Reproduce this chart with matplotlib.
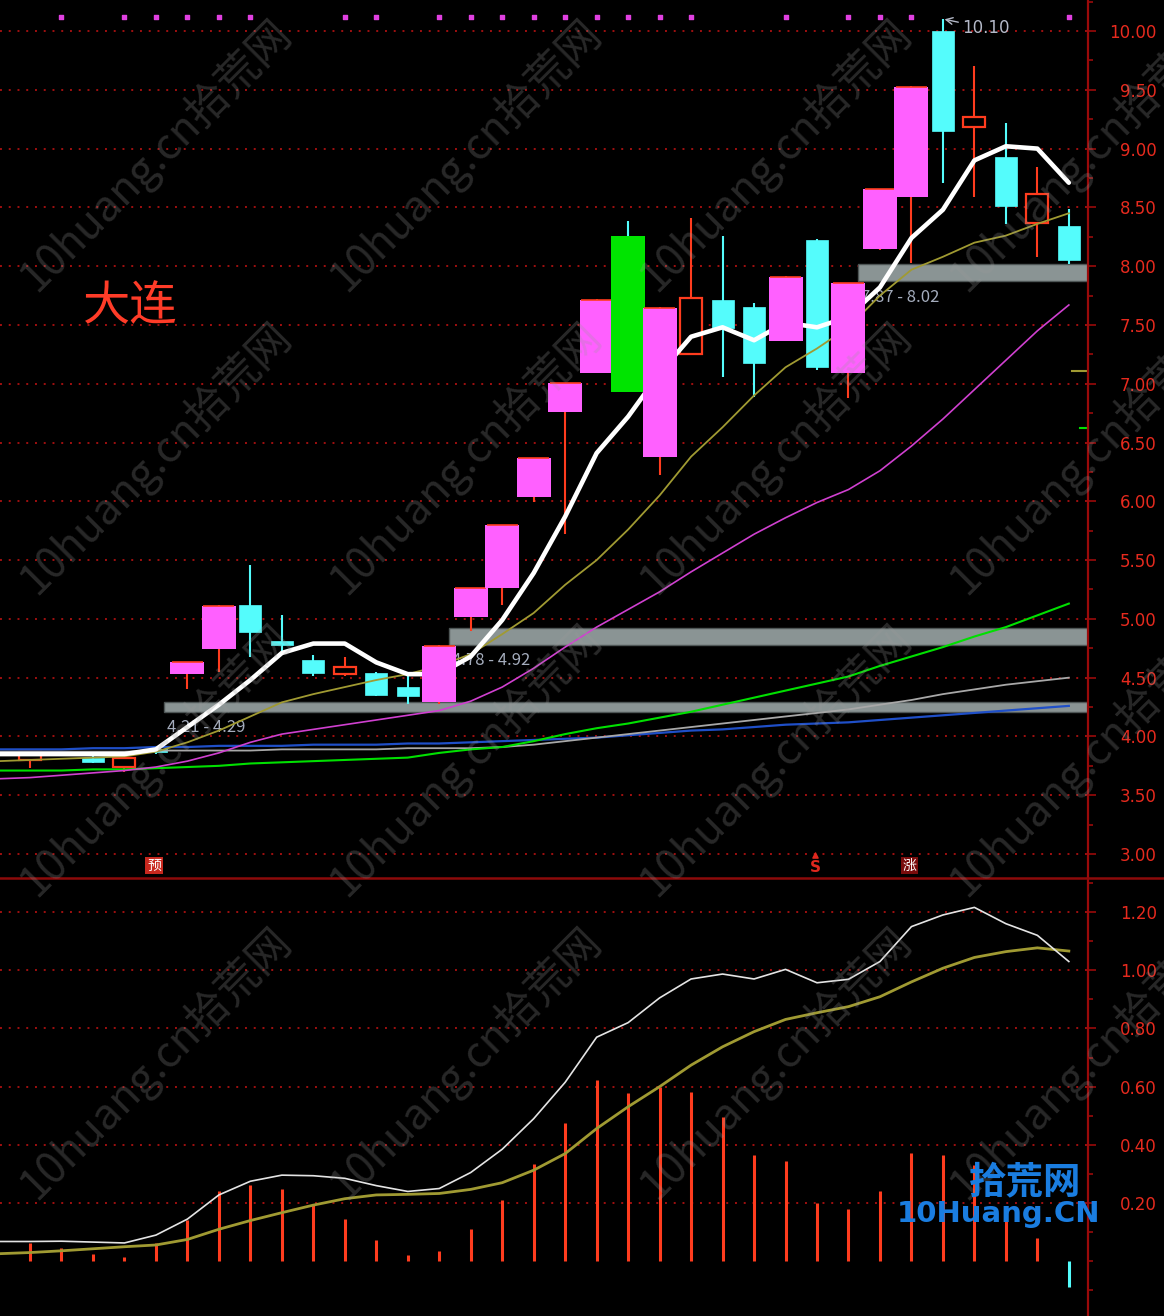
import numpy as np
import matplotlib.pyplot as plt
from matplotlib.patches import Rectangle
from matplotlib.lines import Line2D
from matplotlib.ticker import MultipleLocator

plt.rcParams['font.family'] = ['Noto Sans CJK SC', 'DejaVu Sans']

# K线 (index 0..33)
opens  = [3.80, 3.87, 3.82, 3.74, 3.88, 4.53, 4.74, 5.12, 4.81, 4.65, 4.53, 4.54, 4.42, 4.29,
          5.02, 5.26, 6.04, 6.76, 7.09, 6.93, 6.38, 7.25, 7.71, 7.65, 7.36, 8.22, 7.09, 8.15,
          8.59, 10.00, 9.18, 8.93, 8.37, 8.34]
highs  = [3.88, 3.88, 3.83, 3.82, 3.89, 4.63, 5.12, 5.46, 5.03, 4.69, 4.68, 4.55, 4.51, 4.78,
          5.26, 5.80, 6.37, 7.01, 7.72, 8.38, 7.65, 8.41, 8.26, 7.69, 7.92, 8.23, 7.86, 8.66,
          9.53, 10.10, 9.70, 9.22, 8.84, 8.49]
lows   = [3.73, 3.84, 3.77, 3.70, 3.85, 4.40, 4.55, 4.68, 4.72, 4.51, 4.51, 4.34, 4.28, 4.28,
          4.90, 5.12, 5.99, 5.72, 7.09, 6.93, 6.22, 7.25, 7.06, 6.89, 7.36, 7.12, 6.88, 8.14,
          8.03, 8.71, 8.59, 8.36, 8.08, 8.02]
closes = [3.87, 3.84, 3.78, 3.82, 3.87, 4.63, 5.11, 4.89, 4.78, 4.54, 4.59, 4.35, 4.34, 4.77,
          5.26, 5.80, 6.37, 7.01, 7.71, 8.26, 7.64, 7.73, 7.47, 7.18, 7.91, 7.14, 7.86, 8.66,
          9.52, 9.15, 9.27, 8.51, 8.61, 8.05]
kinds  = ['red', 'cyan', 'cyan', 'red', 'cyan', 'pink', 'pink', 'cyan', 'cyan', 'cyan', 'red',
          'cyan', 'cyan', 'pink', 'pink', 'pink', 'pink', 'pink', 'pink', 'green', 'pink', 'red',
          'cyan', 'cyan', 'pink', 'cyan', 'pink', 'pink', 'pink', 'cyan', 'red', 'cyan', 'red', 'cyan']

# 均线 (index -1..33)
ma5   = [3.85, 3.85, 3.85, 3.85, 3.85, 3.89, 4.08, 4.27, 4.48, 4.71, 4.79, 4.79, 4.63, 4.53, 4.53,
         4.68, 4.99, 5.39, 5.87, 6.41, 6.72, 7.09, 7.40, 7.48, 7.37, 7.52, 7.48, 7.57, 7.82, 8.24,
         8.48, 8.90, 9.02, 9.00, 8.71]
ma10  = [3.79, 3.80, 3.81, 3.82, 3.83, 3.87, 3.95, 4.05, 4.17, 4.29, 4.36, 4.42, 4.48, 4.53, 4.60,
         4.70, 4.87, 5.05, 5.29, 5.50, 5.76, 6.05, 6.38, 6.63, 6.90, 7.14, 7.30, 7.48, 7.75, 7.97,
         8.08, 8.20, 8.26, 8.36, 8.45]
ma20  = [3.64, 3.65, 3.67, 3.69, 3.71, 3.74, 3.79, 3.86, 3.95, 4.02, 4.06, 4.10, 4.14, 4.18, 4.22,
         4.30, 4.42, 4.58, 4.76, 4.93, 5.08, 5.23, 5.40, 5.56, 5.72, 5.86, 5.99, 6.10, 6.26, 6.47,
         6.70, 6.95, 7.20, 7.45, 7.67]
ma60  = [3.71, 3.71, 3.71, 3.72, 3.72, 3.73, 3.74, 3.75, 3.77, 3.78, 3.79, 3.80, 3.81, 3.82, 3.86,
         3.89, 3.91, 3.96, 4.02, 4.07, 4.11, 4.16, 4.21, 4.27, 4.33, 4.39, 4.45, 4.51, 4.60, 4.68,
         4.76, 4.85, 4.93, 5.03, 5.13]
ma120 = [3.87, 3.87, 3.87, 3.87, 3.87, 3.88, 3.88, 3.88, 3.88, 3.89, 3.89, 3.89, 3.89, 3.90, 3.90,
         3.90, 3.91, 3.93, 3.96, 3.99, 4.02, 4.05, 4.08, 4.11, 4.14, 4.17, 4.20, 4.23, 4.27, 4.31,
         4.36, 4.40, 4.44, 4.47, 4.50]
ma250 = [3.89, 3.89, 3.89, 3.90, 3.90, 3.91, 3.91, 3.92, 3.92, 3.92, 3.93, 3.93, 3.93, 3.94, 3.94,
         3.95, 3.96, 3.97, 3.98, 3.99, 4.01, 4.03, 4.05, 4.06, 4.08, 4.10, 4.11, 4.12, 4.14, 4.16,
         4.18, 4.20, 4.22, 4.24, 4.26]

# 支撑区
zone_low   = [4.21, 4.78, 7.87]
zone_high  = [4.29, 4.92, 8.02]
zone_start = [4.26, 13.31, 26.3]

dot_idx = [1, 3, 4, 5, 6, 7, 10, 11, 13, 14, 15, 16, 17, 18, 19, 20, 21, 24, 26, 27, 28, 33]

# 副图
diff = [0.068, 0.068, 0.069, 0.066, 0.063, 0.090, 0.145, 0.228, 0.275, 0.296, 0.294, 0.285, 0.260,
        0.240, 0.250, 0.305, 0.385, 0.490, 0.615, 0.770, 0.820, 0.905, 0.970, 0.987, 0.970, 1.003,
        0.957, 0.969, 1.030, 1.150, 1.190, 1.216, 1.160, 1.120, 1.030]
dea  = [0.026, 0.030, 0.036, 0.043, 0.050, 0.056, 0.075, 0.110, 0.140, 0.167, 0.193, 0.215, 0.228,
        0.230, 0.233, 0.247, 0.270, 0.313, 0.370, 0.456, 0.531, 0.600, 0.674, 0.737, 0.789, 0.831,
        0.854, 0.875, 0.909, 0.960, 1.007, 1.044, 1.064, 1.077, 1.066]
macd = [0.062, 0.047, 0.025, 0.016, 0.062, 0.142, 0.241, 0.262, 0.247, 0.193, 0.144, 0.073, 0.021,
        0.036, 0.110, 0.210, 0.334, 0.474, 0.623, 0.577, 0.598, 0.583, 0.495, 0.365, 0.344, 0.201,
        0.179, 0.242, 0.371, 0.365, 0.330, 0.180, 0.080, -0.090]

W, H = 1164, 1316
PINK, CYAN, RED, GREEN = '#ff60ff', '#54fcfc', '#ff3c1e', '#00e400'
GRID = '#a01010'
AXC = '#9a0a0a'
LAB = '#e62a1e'

fig = plt.figure(figsize=(W / 100, H / 100), dpi=100, facecolor='black')
ax1 = fig.add_axes([0, (H - 878) / H, 1088 / W, 878 / H])
ax2 = fig.add_axes([0, 0, 1088 / W, (H - 878) / H])

x = np.arange(len(opens))
xm = np.arange(-1, len(opens))
xlim = (-30 / 31.48, (1088 - 30) / 31.48)

for ax in (ax1, ax2):
    ax.set_facecolor('black')
    ax.set_xlim(*xlim)
    ax.set_xticks([])
    for s in ('top', 'left', 'bottom'):
        ax.spines[s].set_visible(False)
    ax.spines['right'].set_color(AXC)
    ax.spines['right'].set_linewidth(1.6)
    ax.yaxis.tick_right()
    ax.tick_params(axis='y', which='major', length=6, width=1.2, color=AXC,
                   labelcolor=LAB, labelsize=12, pad=43.5)
    ax.tick_params(axis='y', which='minor', length=3.5, width=1.2, color=AXC)
    ax.grid(axis='y', which='major', color=GRID, linestyle=(0, (1, 3.5)), linewidth=1.4)
    ax.set_axisbelow(True)

# 主图
ax1.set_ylim(2.796, 10.264)
ax1.set_yticks(np.arange(3.0, 10.01, 0.5))
ax1.set_yticklabels([f'{v:.2f}' for v in np.arange(3.0, 10.01, 0.5)])
ax1.yaxis.set_minor_locator(MultipleLocator(0.25))

for lo, hi, st in zip(zone_low, zone_high, zone_start):
    ax1.add_patch(Rectangle((st, lo), xlim[1] - st, hi - lo, facecolor='#8a9494',
                            edgecolor='#4e5656', linewidth=1, zorder=1))
    ax1.text(st + 0.1, lo - 0.06, f'{lo:.2f} - {hi:.2f}', color='#a4acbc', fontsize=12,
             ha='left', va='top', zorder=1.5)

nw, ww = 0.70, 1.08
for i in x:
    o, h, l, c, k = opens[i], highs[i], lows[i], closes[i], kinds[i]
    top, bot = max(o, c), min(o, c)
    if k == 'cyan':
        ax1.vlines(i, l, h, color=CYAN, lw=1.5, zorder=2)
        ax1.add_patch(Rectangle((i - nw / 2, bot), nw, max(top - bot, 0.02), facecolor=CYAN,
                                edgecolor=CYAN, lw=0.5, zorder=2))
    elif k == 'red':
        ax1.vlines(i, top, h, color=RED, lw=1.5, zorder=2)
        ax1.vlines(i, l, bot, color=RED, lw=1.5, zorder=2)
        ax1.add_patch(Rectangle((i - nw / 2, bot), nw, top - bot, facecolor='black',
                                edgecolor=RED, lw=1.6, zorder=2))
    elif k == 'pink':
        ax1.vlines(i, l, h, color=RED, lw=1.5, zorder=2)
        ax1.add_patch(Rectangle((i - ww / 2, bot), ww, top - bot, facecolor=PINK,
                                edgecolor='none', zorder=4))
        ax1.hlines(top, i - ww / 2 + 0.05, i + ww / 2 - 0.05, color=RED, lw=1.2, zorder=4)
    else:
        ax1.vlines(i, l, h, color=CYAN, lw=1.5, zorder=2)
        ax1.add_patch(Rectangle((i - ww / 2, bot), ww, top - bot, facecolor=GREEN,
                                edgecolor='none', zorder=4))

ax1.plot(xm, ma250, color='#1f4fc8', lw=1.6, zorder=3)
ax1.plot(xm, ma120, color='#a8a8a8', lw=1.3, zorder=3)
ax1.plot(xm, ma60, color='#00e000', lw=1.5, zorder=3)
ax1.plot(xm, ma20, color='#d040d0', lw=1.2, zorder=3)
ax1.plot(xm, ma10, color='#a09a32', lw=1.3, zorder=3)
ax1.plot(xm, ma5, color='white', lw=3.3, zorder=3, solid_capstyle='round')

ax1.scatter(dot_idx, [10.12] * len(dot_idx), marker='s', s=9, color='#e040e0', zorder=5)

ax1.annotate('10.10', xy=(29.05, 10.10), xytext=(29.62, 10.025), color='#b4b9c8', fontsize=12,
             ha='left', va='center', family='DejaVu Sans',
             arrowprops=dict(arrowstyle='->', color='#b4b9c8', lw=1, shrinkA=1, shrinkB=0))

ax1.text(1.68, 7.65, '大连', color='#ff3c28', fontsize=34, ha='left', va='center', zorder=6)

ax1.text(3.94, 2.90, '预', color='white', fontsize=10, ha='center', va='center',
         bbox=dict(boxstyle='square,pad=0.12', facecolor='#c8281e', edgecolor='none'), zorder=6)
ax1.text(27.95, 2.90, '涨', color='white', fontsize=10, ha='center', va='center',
         bbox=dict(boxstyle='square,pad=0.12', facecolor='#7a0c0c', edgecolor='none'), zorder=6)
ax1.text(24.94, 2.885, 'S', color='#e0281e', fontsize=11, ha='center', va='center',
         family='DejaVu Sans', fontweight='bold', zorder=6)
ax1.scatter([24.94], [2.99], marker='^', s=14, color='#e0281e', zorder=6)

ax1.plot([0.985, 1.0], [7.11, 7.11], color='#a09a32', lw=1.5, transform=ax1.get_yaxis_transform(),
         clip_on=False)
ax1.plot([0.993, 1.0], [6.62, 6.62], color='#00e000', lw=1.5, transform=ax1.get_yaxis_transform(),
         clip_on=False)

# 副图
ax2.set_ylim(-0.188, 1.317)
ax2.set_yticks(np.arange(0.2, 1.21, 0.2))
ax2.set_yticklabels([f'{v:.2f}' for v in np.arange(0.2, 1.21, 0.2)])
ax2.yaxis.set_minor_locator(MultipleLocator(0.1))
bar_colors = [RED if v >= 0 else CYAN for v in macd]
ax2.vlines(x, 0, macd, colors=bar_colors, lw=2.2, zorder=2)
ax2.plot(xm, dea, color='#a09a32', lw=2.0, zorder=3)
ax2.plot(xm, diff, color='#e4e4e4', lw=1.2, zorder=3)

for ax in (ax1, ax2):
    for lab in ax.get_yticklabels():
        lab.set_horizontalalignment('right')
        lab.set_family('DejaVu Sans')

fig.add_artist(Line2D([0, 1], [(H - 878) / H] * 2, color='#8c0a0a', lw=1.8))

# 水印
for cx in (155, 465, 775, 1085):
    for cy in (155, 458, 760, 1063):
        fig.text(cx / W, 1 - cy / H, '10huang.cn拾荒网', color='#9a9a9a', alpha=0.26,
                 fontsize=31, rotation=45, ha='center', va='center', rotation_mode='anchor',
                 zorder=10)

fig.text(1025 / W, 1 - 1182 / H, '拾荒网', color='#1a7de0', fontsize=27, fontweight='bold',
         ha='center', va='center', zorder=11)
fig.text(998 / W, 1 - 1214 / H, '10Huang.CN', color='#1a7de0', fontsize=21, fontweight='bold',
         ha='center', va='center', family='DejaVu Sans', zorder=11)

fig.savefig('out.png', dpi=100, facecolor='black')
